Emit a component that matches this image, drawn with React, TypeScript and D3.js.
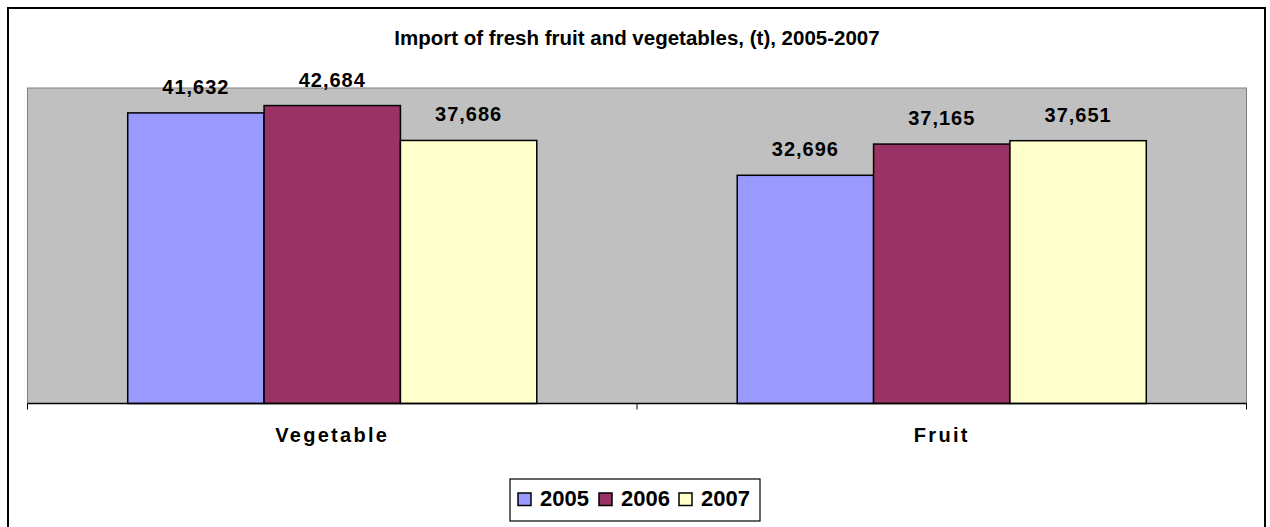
import React from 'react';
import * as d3 from 'd3';

const categories = ['Vegetable', 'Fruit'];
const years = ['2005', '2006', '2007'];
const values2005 = [41632, 32696];
const values2006 = [42684, 37165];
const values2007 = [37686, 37651];
const seriesValues = [values2005, values2006, values2007];
const colors = ['#9999FF', '#993366', '#FFFFCC'];

const W = 1270;
const H = 527;
const plot = { left: 27.5, right: 1246.5, top: 88, bottom: 403.5 };
const font = 'Arial, "Liberation Sans", sans-serif';

const App: React.FC = () => {
  const x0 = d3.scaleBand<string>().domain(categories).range([plot.left, plot.right]).padding(0);
  const x1 = d3
    .scaleBand<string>()
    .domain(years)
    .range([0, x0.bandwidth()])
    .paddingInner(0)
    .paddingOuter(0.735);
  const y = d3.scaleLinear().domain([0, 45200]).range([plot.bottom, plot.top]);
  const fmt = d3.format(',');

  const tickXs = [...categories.map(c => x0(c)!), plot.right];

  // legend layout
  const legendX = 510;
  const legendY = 479;
  const itemOffsets = [8, 89, 169];

  return (
    <svg width={W} height={H} style={{ position: 'absolute', left: 0, top: 0 }} fontFamily={font}>
      <rect x={0} y={0} width={W} height={H} fill="#fff" />
      <rect x={8} y={8} width={1257} height={H + 10} fill="#fff" stroke="#000" strokeWidth={2} />

      <text x={637} y={45} textAnchor="middle" fontSize={20.5} fontWeight="bold">
        Import of fresh fruit and vegetables, (t), 2005-2007
      </text>

      <rect
        x={plot.left}
        y={plot.top}
        width={plot.right - plot.left}
        height={plot.bottom - plot.top}
        fill="#C0C0C0"
        stroke="#808080"
        strokeWidth={1}
      />

      {categories.map((c, ci) =>
        years.map((yr, si) => {
          const v = seriesValues[si][ci];
          const bx = x0(c)! + x1(yr)!;
          return (
            <rect
              key={c + yr}
              x={bx}
              y={y(v)}
              width={x1.bandwidth()}
              height={plot.bottom - y(v)}
              fill={colors[si]}
              stroke="#000"
              strokeWidth={1.5}
            />
          );
        })
      )}

      {categories.map((c, ci) =>
        years.map((yr, si) => {
          const v = seriesValues[si][ci];
          const cx = x0(c)! + x1(yr)! + x1.bandwidth() / 2;
          return (
            <text
              key={'l' + c + yr}
              x={cx}
              y={y(v) - 19}
              textAnchor="middle"
              fontSize={20}
              fontWeight="bold"
              letterSpacing={1}
            >
              {fmt(v)}
            </text>
          );
        })
      )}

      <line x1={plot.left} x2={plot.right} y1={plot.bottom} y2={plot.bottom} stroke="#000" strokeWidth={1.5} />
      {tickXs.map((tx, i) => (
        <line key={i} x1={tx} x2={tx} y1={plot.bottom} y2={plot.bottom + 6} stroke="#000" strokeWidth={1} />
      ))}

      {categories.map(c => (
        <text
          key={'c' + c}
          x={x0(c)! + x0.bandwidth() / 2}
          y={442}
          textAnchor="middle"
          fontSize={20}
          fontWeight="bold"
          letterSpacing={2.3}
        >
          {c}
        </text>
      ))}

      <rect x={legendX} y={legendY} width={250} height={42} fill="#fff" stroke="#000" strokeWidth={1.2} />
      {years.map((yr, i) => (
        <g key={'lg' + yr} transform={`translate(${legendX + itemOffsets[i]}, ${legendY})`}>
          <rect x={0} y={14} width={13} height={12.5} fill={colors[i]} stroke="#000" strokeWidth={1.5} />
          <text x={22} y={27} fontSize={22} fontWeight="bold">
            {yr}
          </text>
        </g>
      ))}
    </svg>
  );
};

export default App;
